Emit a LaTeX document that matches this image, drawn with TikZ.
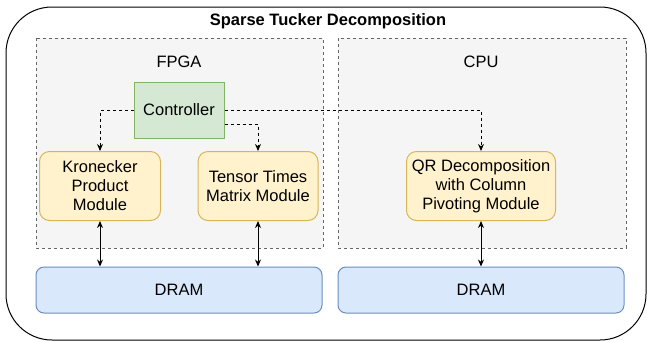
\documentclass[tikz,border=0pt]{standalone}
\usepackage{fontspec}
\setmainfont{Liberation Sans}
\usetikzlibrary{calc, arrows.meta, positioning}
\definecolor{groupFill}{HTML}{F5F5F5}
\definecolor{groupLine}{HTML}{666666}
\definecolor{ctrlFill}{HTML}{D5E8D4}
\definecolor{ctrlLine}{HTML}{82B366}
\definecolor{modFill}{HTML}{FFF2CC}
\definecolor{modLine}{HTML}{D6B656}
\definecolor{memFill}{HTML}{DAE8FC}
\definecolor{memLine}{HTML}{6C8EBF}
\newcommand{\txt}{\fontsize{16.5}{19}\selectfont}

\begin{document}
\begin{tikzpicture}[x=1pt, y=-1pt, font=\txt,
    group/.style={draw=groupLine, fill=groupFill, dash pattern=on 3pt off 3pt, line width=0.8pt},
    module/.style={draw=modLine, fill=modFill, rounded corners=10pt, line width=1pt, align=center, minimum height=69pt},
    memory/.style={draw=memLine, fill=memFill, rounded corners=8pt, line width=1pt, minimum width=286pt, minimum height=46pt},
    ctrlline/.style={-{Stealth[length=7pt, width=6pt]}, dash pattern=on 3pt off 3pt, line width=1pt},
    busline/.style={{Stealth[length=7pt, width=6pt]}-{Stealth[length=7pt, width=6pt]}, line width=1pt}]
    \useasboundingbox (0,0) rectangle (647,341);

    % outer frame
    \draw[line width=1pt, rounded corners=46pt] (6,7) rectangle (646,340);
    \node[font=\txt\bfseries] (title) at (328,21) {Sparse Tucker Decomposition};

    % FPGA and CPU regions
    \draw[group] (36,38) rectangle (323,248);
    \draw[group] (338,38) rectangle (626,248);
    \node (fpga) at (179,62) {FPGA};
    \node (cpu) at (481,62) {CPU};

    \node[draw=ctrlLine, fill=ctrlFill, line width=1pt, minimum width=90pt, minimum height=56pt] (ctrl) at (179,110) {Controller};

    \node[module, minimum width=121pt] (kron) at (100,186) {Kronecker\\Product\\Module};
    \node[module, minimum width=120pt] (ttm) at (258,186) {Tensor Times\\Matrix Module};
    \node[module, minimum width=149pt] (qr) at (481,186) {QR Decomposition\\with Column\\Pivoting Module};

    \node[memory] (dramA) at (179,290) {DRAM};
    \node[memory] (dramB) at (481,290) {DRAM};

    % control signals
    \draw[ctrlline] (ctrl.west) -| (kron.north);
    \draw[ctrlline] ($(ctrl.east)+(0,14)$) -| (ttm.north);
    \draw[ctrlline] (ctrl.east) -| (qr.north);

    % memory access
    \draw[busline] (kron.south) -- (kron.south |- dramA.north);
    \draw[busline] (ttm.south) -- (ttm.south |- dramA.north);
    \draw[busline] (qr.south) -- (qr.south |- dramB.north);
\end{tikzpicture}
\end{document}
